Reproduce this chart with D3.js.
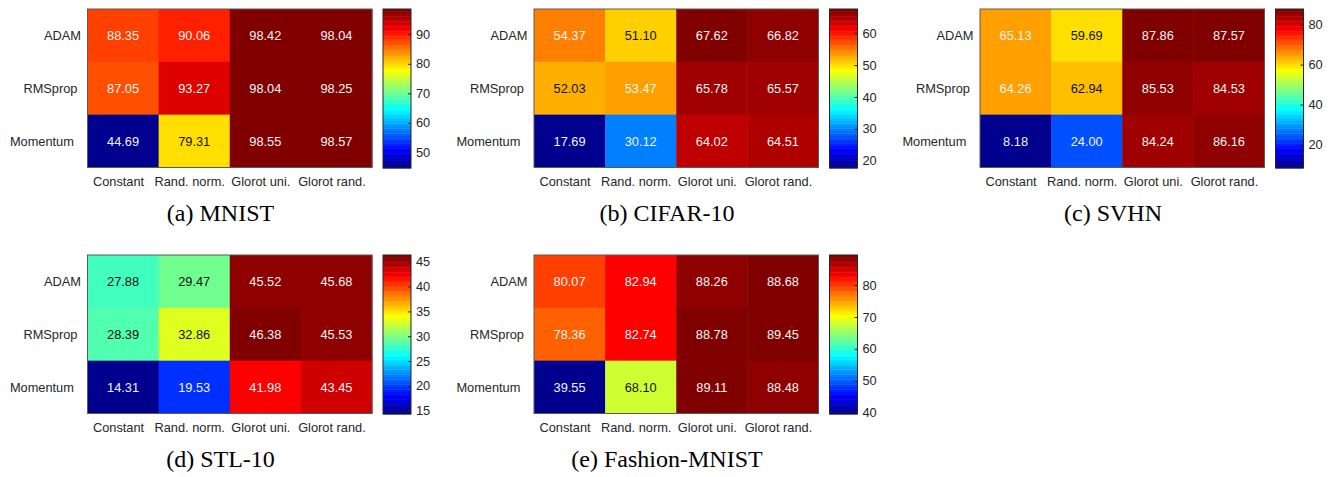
<!DOCTYPE html>
<html>
<head>
<meta charset="utf-8">
<script src="https://cdn.jsdelivr.net/npm/d3@7"></script>
<style>
  html, body { margin: 0; padding: 0; background: #fff; }
  svg { display: block; }
  .lbl { font-family: "Liberation Sans", Arial, sans-serif; font-size: 12.8px; fill: #262626; white-space: pre; }
  .cell-text { font-family: "Liberation Sans", Arial, sans-serif; font-size: 12.8px; }
  .caption { font-family: "Liberation Serif", "Times New Roman", serif; font-size: 24px; fill: #000; }
</style>
</head>
<body>
<svg id="chart" width="1333" height="477"></svg>
<script>
// Optimizers (rows) and weight initialisations (columns)
const optimizers = ["ADAM", "RMSprop ", "Momentum  "];
const initializers = ["Constant", "Rand. norm.", "Glorot uni.", "Glorot rand."];

// Test accuracy (%) per dataset, rows follow `optimizers`
const mnistAcc   = [[88.35, 90.06, 98.42, 98.04], [87.05, 93.27, 98.04, 98.25], [44.69, 79.31, 98.55, 98.57]];
const cifar10Acc = [[54.37, 51.10, 67.62, 66.82], [52.03, 53.47, 65.78, 65.57], [17.69, 30.12, 64.02, 64.51]];
const svhnAcc    = [[65.13, 59.69, 87.86, 87.57], [64.26, 62.94, 85.53, 84.53], [8.18, 24.00, 84.24, 86.16]];
const stl10Acc   = [[27.88, 29.47, 45.52, 45.68], [28.39, 32.86, 46.38, 45.53], [14.31, 19.53, 41.98, 43.45]];
const fashionAcc = [[80.07, 82.94, 88.26, 88.68], [78.36, 82.74, 88.78, 89.45], [39.55, 68.10, 89.11, 88.48]];

// Colour-bar tick values per dataset
const mnistTicks   = [50, 60, 70, 80, 90];
const cifar10Ticks = [20, 30, 40, 50, 60];
const svhnTicks    = [20, 40, 60, 80];
const stl10Ticks   = [15, 20, 25, 30, 35, 40, 45];
const fashionTicks = [40, 50, 60, 70, 80];

const captions = ["(a) MNIST", "(b) CIFAR-10", "(c) SVHN", "(d) STL-10", "(e) Fashion-MNIST"];

// Classic 64-entry jet colour map
function jet64() {
  const m = 64, n = 16;
  const u = [];
  for (let i = 1; i <= n; i++) u.push(i / n);
  for (let i = 1; i < n; i++) u.push(1);
  for (let i = n; i >= 1; i--) u.push(i / n);
  const cols = [];
  const at = k => (k >= 1 && k <= u.length) ? u[k - 1] : 0;
  for (let i = 1; i <= m; i++) {
    const r = at(i - 24), g = at(i - 8), b = at(i + 8);
    cols.push([r, g, b]);
  }
  return cols;
}
const jet = jet64();
const jetHex = jet.map(c => d3.rgb(c[0] * 255, c[1] * 255, c[2] * 255).formatHex());

const svg = d3.select("#chart");

const panels = [
  { data: mnistAcc,   ticks: mnistTicks,   x: 87.5,  y: 9 },
  { data: cifar10Acc, ticks: cifar10Ticks, x: 534,   y: 9 },
  { data: svhnAcc,    ticks: svhnTicks,    x: 980,   y: 9 },
  { data: stl10Acc,   ticks: stl10Ticks,   x: 87.5,  y: 255 },
  { data: fashionAcc, ticks: fashionTicks, x: 534,   y: 255 }
];

const W = 284.5, H = 158.5, cbGap = 11, cbW = 28;

panels.forEach((p, idx) => {
  const g = svg.append("g").attr("transform", `translate(${p.x},${p.y})`);
  const flat = p.data.flat();
  const lo = d3.min(flat), hi = d3.max(flat);

  const color = d3.scaleQuantize().domain([lo, hi]).range(d3.range(64));
  const xs = d3.scaleBand().domain(initializers).range([0, W]);
  const ys = d3.scaleBand().domain(optimizers).range([0, H]);

  const cells = [];
  p.data.forEach((row, i) => row.forEach((v, j) => cells.push({ r: optimizers[i], c: initializers[j], v })));

  g.selectAll("rect.cell").data(cells).join("rect")
    .attr("class", "cell")
    .attr("x", d => xs(d.c)).attr("y", d => ys(d.r))
    .attr("width", xs.bandwidth() + 0.5).attr("height", ys.bandwidth() + 0.5)
    .attr("fill", d => jetHex[color(d.v)]);

  g.append("rect").attr("width", W).attr("height", H)
    .attr("fill", "none").attr("stroke", "#5a5a5a").attr("stroke-width", 1);

  g.selectAll("text.cell-text").data(cells).join("text")
    .attr("class", "cell-text")
    .attr("x", d => xs(d.c) + xs.bandwidth() / 2)
    .attr("y", d => ys(d.r) + ys.bandwidth() / 2)
    .attr("dy", "0.35em")
    .attr("text-anchor", "middle")
    .attr("fill", d => {
      const c = jet[color(d.v)];
      const lum = 0.2989 * c[0] + 0.587 * c[1] + 0.114 * c[2];
      return lum > 0.69 ? "#111" : "#f4f4f4";
    })
    .text(d => d.v.toFixed(2));

  // Row labels
  g.selectAll("text.row").data(optimizers).join("text")
    .attr("class", "lbl row")
    .attr("x", -6.5)
    .attr("y", d => ys(d) + ys.bandwidth() / 2)
    .attr("dy", "0.35em")
    .attr("text-anchor", "end")
    .text(d => d);

  // Column labels
  g.selectAll("text.col").data(initializers).join("text")
    .attr("class", "lbl col")
    .attr("x", d => xs(d) + xs.bandwidth() / 2 - 4.5)
    .attr("y", H + 14)
    .attr("dy", "0.35em")
    .attr("text-anchor", "middle")
    .text(d => d);

  // Colour bar
  const cb = g.append("g").attr("transform", `translate(${W + cbGap},0)`);
  const cbScale = d3.scaleLinear().domain([lo, hi]).range([H + 0.5, 0]);
  const bandH = (H + 0.5) / 64;
  cb.selectAll("rect.band").data(jetHex).join("rect")
    .attr("class", "band")
    .attr("x", 0).attr("width", cbW)
    .attr("y", (d, i) => (H + 0.5) - (i + 1) * bandH)
    .attr("height", bandH + 0.4)
    .attr("fill", d => d);
  cb.append("rect").attr("width", cbW).attr("height", H + 0.5)
    .attr("fill", "none").attr("stroke", "#262626").attr("stroke-width", 1);

  const axis = d3.axisRight(cbScale).tickValues(p.ticks).tickSize(-3).tickPadding(5);
  const ax = cb.append("g").attr("transform", `translate(${cbW},0)`).call(axis);
  ax.select(".domain").remove();
  ax.selectAll(".tick line").attr("stroke", "#262626");
  ax.selectAll(".tick text").attr("class", "lbl").attr("font-size", null).attr("font-family", null).attr("fill", null);

  // Caption
  svg.append("text")
    .attr("class", "caption")
    .attr("x", p.x + 133)
    .attr("y", p.y + 212)
    .attr("text-anchor", "middle")
    .text(captions[idx]);
});
</script>
</body>
</html>
